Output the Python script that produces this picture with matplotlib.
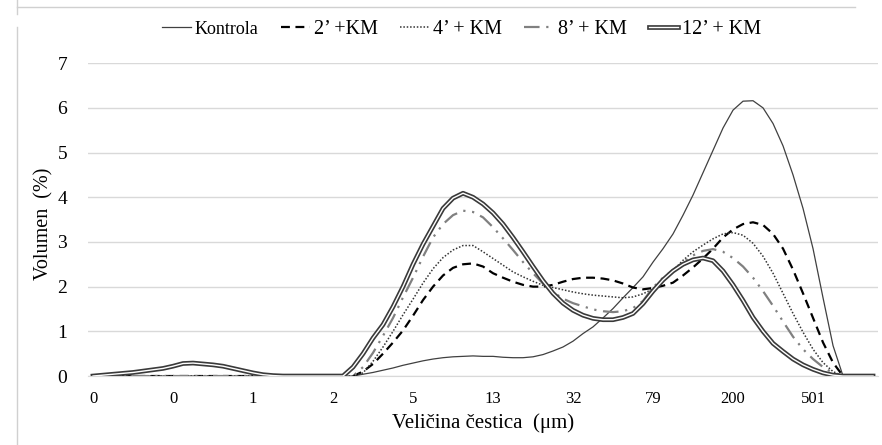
import matplotlib
matplotlib.use("Agg")
import matplotlib.pyplot as plt
import matplotlib.patheffects as pe
from matplotlib.lines import Line2D
import numpy as np

plt.rcParams['font.family'] = ['Liberation Serif', 'DejaVu Serif']

# categories (particle size bins), labels shown every 8th bin
tick_labels = ['0', '0', '1', '2', '5', '13', '32', '79', '200', '501']

kontrola = [0] * 27 + [
    0.04, 0.08, 0.13, 0.18, 0.24, 0.29, 0.34, 0.38, 0.41, 0.43,
    0.44, 0.45, 0.44, 0.44, 0.42, 0.41, 0.41, 0.43, 0.48, 0.56,
    0.65, 0.78, 0.95, 1.10, 1.30, 1.51, 1.75, 1.98, 2.22, 2.55,
    2.85, 3.18, 3.60, 4.05, 4.55, 5.05, 5.55, 5.95, 6.15, 6.16,
    6.00, 5.65, 5.15, 4.50, 3.75, 2.85, 1.75, 0.68, 0, 0, 0, 0]

km2 = [0] * 27 + [
    0.10, 0.27, 0.50, 0.75, 1.02, 1.35, 1.70, 2.00, 2.25, 2.42,
    2.50, 2.52, 2.45, 2.30, 2.20, 2.11, 2.04, 2.00, 2.00, 2.04,
    2.11, 2.17, 2.20, 2.20, 2.18, 2.14, 2.07, 1.98, 1.94, 1.97,
    2.02, 2.09, 2.25, 2.43, 2.63, 2.85, 3.10, 3.28, 3.40, 3.44,
    3.38, 3.18, 2.85, 2.38, 1.85, 1.30, 0.75, 0.30, 0, 0, 0, 0]

km4 = [0] * 27 + [
    0.07, 0.33, 0.65, 1.00, 1.37, 1.72, 2.08, 2.40, 2.65, 2.82,
    2.92, 2.92, 2.78, 2.63, 2.48, 2.33, 2.22, 2.12, 2.03, 1.98,
    1.93, 1.88, 1.84, 1.81, 1.79, 1.77, 1.75, 1.77, 1.84, 1.95,
    2.15, 2.36, 2.59, 2.78, 2.93, 3.07, 3.18, 3.21, 3.15, 2.97,
    2.68, 2.30, 1.85, 1.40, 0.98, 0.60, 0.30, 0.10, 0, 0, 0, 0]

km8 = [0] * 27 + [
    0.20, 0.52, 0.90, 1.30, 1.76, 2.20, 2.67, 3.10, 3.40, 3.60,
    3.70, 3.67, 3.55, 3.33, 3.08, 2.82, 2.55, 2.30, 2.07, 1.88,
    1.73, 1.63, 1.56, 1.49, 1.45, 1.43, 1.45, 1.52, 1.68, 1.98,
    2.20, 2.37, 2.55, 2.70, 2.80, 2.84, 2.78, 2.64, 2.45, 2.20,
    1.90, 1.57, 1.22, 0.88, 0.60, 0.38, 0.20, 0.07, 0, 0, 0, 0]

km12 = [
    0.00, 0.02, 0.04, 0.06, 0.08, 0.11, 0.14, 0.17, 0.22, 0.28,
    0.29, 0.27, 0.25, 0.22, 0.17, 0.12, 0.07, 0.03, 0.01, 0,
    0, 0, 0, 0, 0, 0, 0.20, 0.50, 0.85, 1.15,
    1.55, 2.00, 2.50, 2.95, 3.35, 3.75, 3.98, 4.09, 4.00, 3.85,
    3.65, 3.40, 3.10, 2.78, 2.45, 2.13, 1.85, 1.63, 1.47, 1.36,
    1.29, 1.26, 1.26, 1.31, 1.40, 1.62, 1.90, 2.15, 2.35, 2.50,
    2.60, 2.64, 2.58, 2.35, 2.04, 1.69, 1.31, 1.00, 0.73, 0.55,
    0.38, 0.25, 0.15, 0.07, 0.02, 0, 0, 0, 0]

x = np.arange(len(km12))

fig = plt.figure(figsize=(8.82, 4.45), dpi=100)
ax = fig.add_axes([0.0998, 0.155, 0.8957, 0.703])

ax.plot(x, kontrola, color='#404040', lw=0.9, label='Kontrola')
ax.plot(x, km2, color='black', lw=1.6, ls=(0, (4, 2.5)), label='2’ +KM')
ax.plot(x, km4, color='#333333', lw=1.1, ls=(0, (1, 1.2)), label='4’ + KM')
ax.plot(x, km8, color='#808080', lw=1.6, ls=(0, (7, 3, 1, 3, 1, 3)),
        label='8’ + KM')
ax.plot(x, km12, color='white', lw=1.0, label='12’ + KM',
        path_effects=[pe.Stroke(linewidth=3.4, foreground='#3a3a3a'),
                      pe.Normal()])

ax.set_xlim(-0.5, len(x) - 0.5)
ax.set_ylim(0, 7)
ax.set_xticks(np.arange(0, 80, 8))
ax.set_xticklabels(tick_labels)
ax.set_yticks(range(8))
ax.tick_params(length=0, labelsize=12, pad=11)
ax.tick_params(axis='y', labelsize=14, pad=15)
ax.grid(axis='y', color='#d9d9d9', lw=1)
ax.set_axisbelow(True)
for s in ['top', 'right', 'left']:
    ax.spines[s].set_visible(False)
ax.spines['bottom'].set_color('#d9d9d9')

ax.set_xlabel('Veličina čestica  (μm)', fontsize=15, labelpad=4)
ax.set_ylabel('Volumen  (%)', fontsize=14.5)
ax.yaxis.set_label_coords(-0.044, 0.486)

leg = fig.legend(loc='center', bbox_to_anchor=(0.523, 0.933), ncol=5,
                 frameon=False, fontsize=14.5, handlelength=1.45,
                 columnspacing=1.1, handletextpad=0.2)
leg.get_texts()[0].set_fontsize(13)

# outer frame lines of the original image
fig.add_artist(Line2D([16.5 / 882, 16.5 / 882], [0, 1 - 27 / 445],
                      color='#d0d0d0', lw=1, transform=fig.transFigure))
fig.add_artist(Line2D([16.5 / 882, 16.5 / 882], [1 - 14 / 445, 1],
                      color='#d0d0d0', lw=1, transform=fig.transFigure))
fig.add_artist(Line2D([16.5 / 882, 855 / 882], [1 - 7 / 445, 1 - 7 / 445],
                      color='#d0d0d0', lw=1, transform=fig.transFigure))

fig.savefig('out.png', dpi=100)
